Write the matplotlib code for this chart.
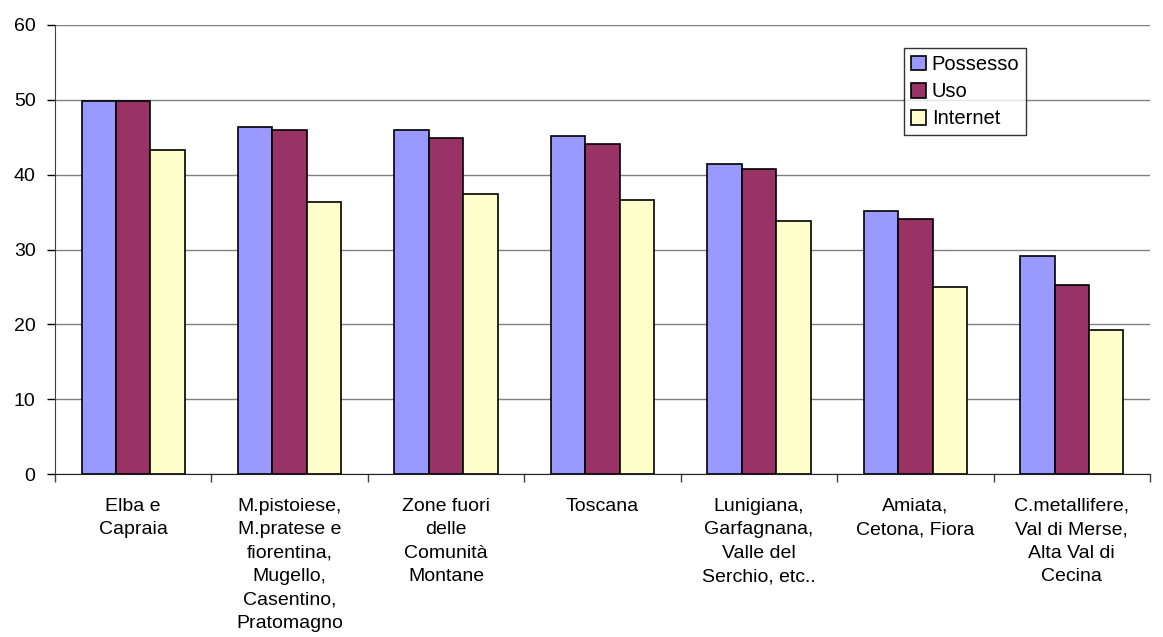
import numpy as np
import matplotlib
matplotlib.use('Agg')
import matplotlib.pyplot as plt

plt.rcParams['font.family'] = ['Liberation Sans', 'DejaVu Sans']

categories = [
    'Elba e\nCapraia',
    'M.pistoiese,\nM.pratese e\nfiorentina,\nMugello,\nCasentino,\nPratomagno',
    'Zone fuori\ndelle\nComunità\nMontane',
    'Toscana',
    'Lunigiana,\nGarfagnana,\nValle del\nSerchio, etc..',
    'Amiata,\nCetona, Fiora',
    'C.metallifere,\nVal di Merse,\nAlta Val di\nCecina',
]
possesso = [49.8, 46.4, 46.0, 45.2, 41.4, 35.1, 29.1]
uso = [49.8, 45.9, 44.9, 44.1, 40.7, 34.1, 25.3]
internet = [43.3, 36.4, 37.4, 36.6, 33.8, 25.0, 19.3]

series = [
    ('Possesso', possesso, '#9999FF'),
    ('Uso', uso, '#993366'),
    ('Internet', internet, '#FFFFCC'),
]

fig = plt.figure(figsize=(11.63, 6.37), dpi=100)
ax = fig.add_axes([0.0473, 0.2554, 0.9415, 0.7058])

x = np.arange(len(categories))
w = 0.22
for i, (name, vals, color) in enumerate(series):
    ax.bar(x + (i - 1) * w, vals, width=w, color=color, edgecolor='black',
           linewidth=1.2, label=name, zorder=3)

ax.set_xlim(-0.5, len(categories) - 0.5)
ax.set_ylim(0, 60)
ax.set_yticks(range(0, 61, 10))
ax.yaxis.grid(True, color='#808080', linewidth=1, zorder=0)
ax.set_axisbelow(True)

ax.set_xticks(x)
ax.set_xticklabels(categories, fontsize=14, linespacing=1.5, va='top')
ax.tick_params(axis='x', which='major', length=0, pad=17)
ax.set_xticks(np.arange(-0.5, len(categories), 1), minor=True)
ax.tick_params(axis='x', which='minor', length=6, width=1, color='#404040')
ax.tick_params(axis='y', length=6, width=1, labelsize=14, pad=8)

for s in ['top', 'right']:
    ax.spines[s].set_visible(False)
ax.spines['left'].set_color('#404040')
ax.spines['bottom'].set_color('#202020')

leg = ax.legend(loc='upper left', bbox_to_anchor=(0.775, 0.948), fontsize=14.5,
                frameon=True, fancybox=False, handlelength=0.75, handleheight=0.75,
                handletextpad=0.3, labelspacing=0.4, borderpad=0.35,
                borderaxespad=0)
leg.get_frame().set_edgecolor('black')
leg.get_frame().set_linewidth(1)

fig.savefig('out.png', dpi=100)
